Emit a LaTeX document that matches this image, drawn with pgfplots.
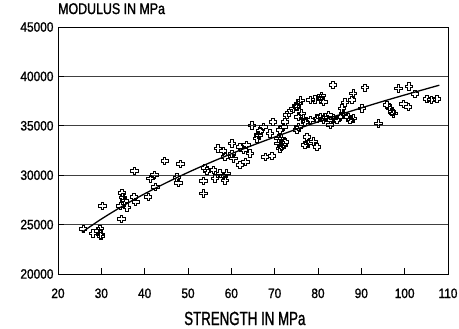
\documentclass[border=0pt]{standalone}
\usepackage{fontspec}
\usepackage{pgfplots}
\pgfplotsset{compat=1.18}
\newfontfamily\tickf[FakeStretch=0.88,FakeBold=1.2]{Liberation Sans}
\newfontfamily\titlef[FakeStretch=0.8,FakeBold=1.2]{Liberation Sans}
\newfontfamily\labf[FakeStretch=0.7,FakeBold=1.2]{Liberation Sans}

\pgfdeclareplotmark{hplus}{%
  \pgfpathmoveto{\pgfqpoint{0.33\pgfplotmarksize}{\pgfplotmarksize}}%
  \pgfpathlineto{\pgfqpoint{0.33\pgfplotmarksize}{0.33\pgfplotmarksize}}%
  \pgfpathlineto{\pgfqpoint{\pgfplotmarksize}{0.33\pgfplotmarksize}}%
  \pgfpathlineto{\pgfqpoint{\pgfplotmarksize}{-0.33\pgfplotmarksize}}%
  \pgfpathlineto{\pgfqpoint{0.33\pgfplotmarksize}{-0.33\pgfplotmarksize}}%
  \pgfpathlineto{\pgfqpoint{0.33\pgfplotmarksize}{-\pgfplotmarksize}}%
  \pgfpathlineto{\pgfqpoint{-0.33\pgfplotmarksize}{-\pgfplotmarksize}}%
  \pgfpathlineto{\pgfqpoint{-0.33\pgfplotmarksize}{-0.33\pgfplotmarksize}}%
  \pgfpathlineto{\pgfqpoint{-\pgfplotmarksize}{-0.33\pgfplotmarksize}}%
  \pgfpathlineto{\pgfqpoint{-\pgfplotmarksize}{0.33\pgfplotmarksize}}%
  \pgfpathlineto{\pgfqpoint{-0.33\pgfplotmarksize}{0.33\pgfplotmarksize}}%
  \pgfpathlineto{\pgfqpoint{-0.33\pgfplotmarksize}{\pgfplotmarksize}}%
  \pgfpathclose
  \pgfusepathqstroke
}

\pgfplotstableread{
x y
25.8 24550
28.0 24120
29.3 24350
29.7 24600
29.8 24000
29.9 23850
30.2 26880
34.6 25570
34.7 28200
35.0 27740
35.3 27390
34.4 26880
35.9 26730
37.5 27820
37.9 27320
37.6 30450
40.8 27820
41.3 29660
42.2 30020
42.5 28830
44.6 31440
47.4 29770
47.8 29210
48.2 31160
53.5 29410
53.5 28170
53.9 30730
54.3 30420
55.8 30560
56.2 29690
57.4 30190
58.1 29920
58.5 29460
58.9 30190
56.9 32700
58.1 32450
58.5 31840
60.1 33230
60.1 32140
60.5 31690
62.0 32880
62.8 32550
63.5 33050
64.3 32220
62.0 31030
63.2 31360
64.7 35030
65.9 33730
66.2 34070
66.6 34470
67.4 34880
67.8 31870
69.3 31940
68.9 34240
69.6 35380
70.8 33230
71.2 32720
71.6 32880
72.0 33050
72.4 33390
71.6 33730
70.8 33730
71.2 34570
72.0 34910
72.4 35410
72.8 36090
73.3 36340
74.3 36750
75.1 36930
75.5 37270
75.9 37560
75.5 35920
76.2 36260
76.6 35760
77.0 35410
75.1 34570
75.5 34910
77.4 33900
77.0 33050
77.8 33230
78.9 33410
79.7 32880
78.2 37610
79.3 37660
80.5 37780
81.2 37440
80.8 38060
78.2 35590
79.7 35760
80.5 35920
81.2 35590
81.6 35920
82.4 36090
82.8 35590
82.8 35080
83.5 35760
84.3 35590
85.1 35920
85.8 36260
83.4 39130
86.2 37360
87.8 37610
88.1 38290
85.5 36770
87.0 35920
87.4 35590
88.1 35760
90.1 36770
90.8 38870
93.9 35250
95.9 37100
96.6 36770
97.0 36420
97.4 36260
98.5 38790
99.7 37200
100.8 36900
101.0 38980
102.4 38220
105.1 37710
106.2 37640
107.4 37730
}\pts

\pgfplotstableread{
x y
25.5 24220
30 25560
35 26900
40 28120
45 29240
50 30280
55 31255
60 32170
65 33040
70 33860
75 34650
80 35400
85 36120
90 36810
95 37480
100 38120
105 38740
108 39110
}\fit

\begin{document}
\begin{tikzpicture}
\begin{axis}[
  name=ax,
  scale only axis,
  width=390bp, height=247bp,
  xmin=20, xmax=110, ymin=20000, ymax=45000,
  xtick={20,30,...,110},
  ytick={20000,25000,...,45000},
  scaled y ticks=false,
  /pgf/number format/1000 sep={},
  /pgf/number format/assume math mode=true,
  tick align=inside,
  xtick pos=bottom, ytick pos=left,
  major tick length=6bp,
  tick style={black, line width=0.6bp},
  axis line style={black, line width=0.8bp},
  ymajorgrids,
  grid style={black!75, line width=0.6bp},
  ticklabel style={font=\fontsize{13.5bp}{16bp}\selectfont\tickf},
  xticklabel style={anchor=base, yshift=-24bp},
  yticklabel style={xshift=-1bp},
  title={MODULUS IN MPa},
  title style={at={(axis description cs:0,1)}, anchor=base west, yshift=7bp, inner sep=0pt, font=\fontsize{15.5bp}{18bp}\selectfont\titlef},
  xlabel={STRENGTH IN MPa},
  xlabel style={at={(axis description cs:0.479,0)}, anchor=base, yshift=-51bp, inner sep=0pt, font=\fontsize{19bp}{22bp}\selectfont\labf},
]
\addplot[only marks, mark=hplus, mark size=3.7bp, mark options={line width=0.7bp, black}] table[x=x, y=y] {\pts};
\addplot[black, line width=1.3bp, smooth, no marks] table[x=x, y=y] {\fit};
\end{axis}
\pgfresetboundingbox
\path ([shift={(-58bp,-55bp)}]ax.south west) rectangle ([shift={(401bp,274bp)}]ax.south west);
\end{tikzpicture}
\end{document}
